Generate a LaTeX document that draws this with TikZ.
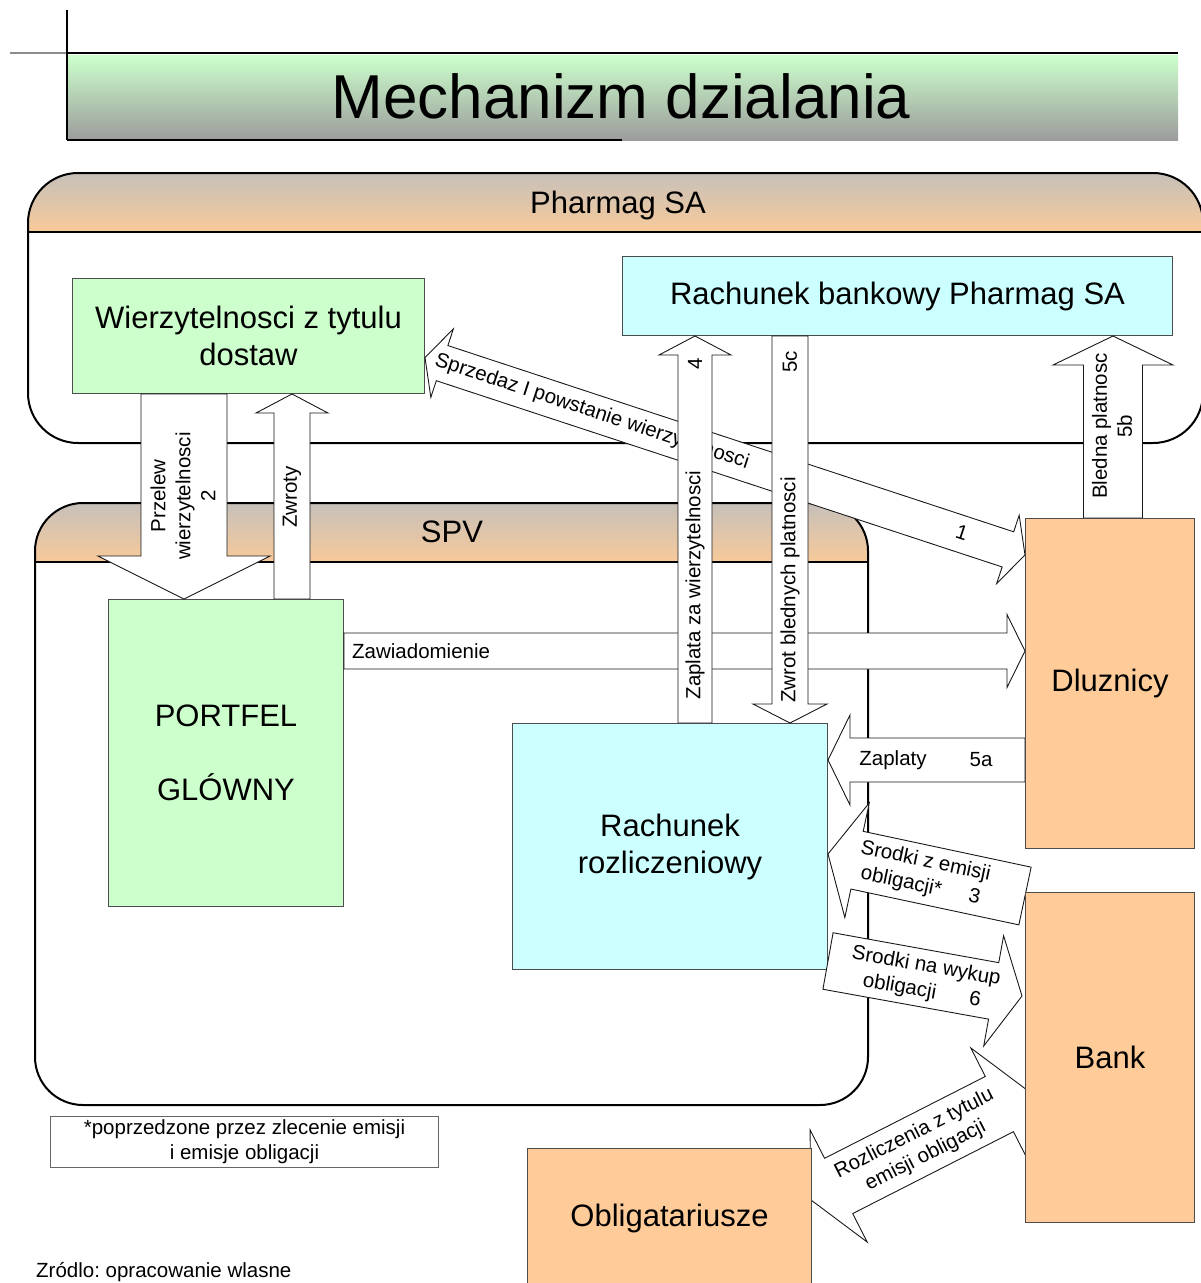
\documentclass[tikz,border=0pt]{standalone}
\usepackage{fontspec}
\setmainfont{Liberation Sans}
\usetikzlibrary{calc, positioning}
\frenchspacing

\definecolor{boxgreen}{RGB}{204,255,204}
\definecolor{boxcyan}{RGB}{204,255,255}
\definecolor{boxorange}{RGB}{255,204,153}
\definecolor{hdtop}{RGB}{198,192,186}
\definecolor{hdbot}{RGB}{248,202,154}
\definecolor{titletop}{RGB}{204,255,204}
\definecolor{titlebot}{RGB}{156,156,156}

\newcommand{\titlefont}{\fontsize{62}{70}\selectfont}
\newcommand{\boxfont}{\fontsize{31}{37}\selectfont}
\newcommand{\arrfont}{\fontsize{20.5}{25}\selectfont}

% tail, tip, shaft half width, head half width, head length
\newcommand{\blockarrow}[5]{%
  \coordinate (hb) at ($(#2)!#5!(#1)$);
  \draw[blk] ($(#1)!#3!90:(#2)$) -- ($(hb)!#3!-90:(#1)$) -- ($(hb)!#4!-90:(#1)$) -- (#2)
    -- ($(hb)!#4!90:(#1)$) -- ($(hb)!#3!90:(#1)$) -- ($(#1)!#3!-90:(#2)$) -- cycle;}
\newcommand{\dblockarrow}[5]{%
  \coordinate (ha) at ($(#1)!#5!(#2)$);
  \coordinate (hb) at ($(#2)!#5!(#1)$);
  \draw[blk] (#1) -- ($(ha)!#4!90:(#2)$) -- ($(ha)!#3!90:(#2)$) -- ($(hb)!#3!-90:(#1)$)
    -- ($(hb)!#4!-90:(#1)$) -- (#2) -- ($(hb)!#4!90:(#1)$) -- ($(hb)!#3!90:(#1)$)
    -- ($(ha)!#3!-90:(#2)$) -- ($(ha)!#4!-90:(#2)$) -- cycle;}

\tikzset{
  box/.style={draw=black!70, line width=1pt, inner sep=0pt, anchor=north west, align=center, font=\boxfont},
  greenbox/.style={box, fill=boxgreen},
  cyanbox/.style={box, fill=boxcyan},
  orangebox/.style={box, fill=boxorange},
  blk/.style={draw=black!90, fill=white, line width=0.9pt},
  lbl/.style={font=\arrfont, align=center, inner sep=0pt},
  contline/.style={draw, line width=2pt, rounded corners=#1}
}

\begin{document}
\begin{tikzpicture}[x=1pt, y=-1pt]
\useasboundingbox (0,0) rectangle (1201,1283);
\clip (0,0) rectangle (1201,1283);

% title bar
\shade[top color=titletop, bottom color=titlebot] (67,55) rectangle (1178,140);
\draw[black!45, line width=1.5pt] (10,53) -- (67,53);
\draw[line width=2.5pt] (67,53) -- (1178,53);
\draw[line width=2pt] (67,10) -- (67,140);
\draw[line width=2.5pt] (67,140) -- (622,140);
\node[font=\titlefont, anchor=base] (title) at (621,118) {Mechanizm dzialania};

% Pharmag SA
\fill[white, rounded corners=50pt] (28,173) rectangle (1203,443);
\begin{scope}
  \clip[rounded corners=50pt] (28,173) rectangle (1203,443);
  \shade[top color=hdtop, bottom color=hdbot] (28,173) rectangle (1203,232);
\end{scope}
\draw[line width=2pt] (28,232) -- (1203,232);
\path[contline=50pt] (28,173) rectangle (1203,443);
\node[font=\boxfont, anchor=base] (pharmag) at (618,213) {Pharmag SA};

\node[greenbox, minimum width=352pt, minimum height=115pt] (wierz) at (72,278) {Wierzytelnosci z tytulu\\dostaw};
\node[cyanbox, minimum width=550pt, minimum height=79pt] (rbank) at (622,256) {Rachunek bankowy Pharmag SA};

% SPV
\fill[white, rounded corners=48pt] (35,503) rectangle (868,1105);
\begin{scope}
  \clip[rounded corners=48pt] (35,503) rectangle (868,1105);
  \shade[top color=hdtop, bottom color=hdbot] (35,503) rectangle (868,562);
\end{scope}
\draw[line width=2pt] (35,562) -- (868,562);
\path[contline=48pt] (35,503) rectangle (868,1105);
\node[font=\boxfont, anchor=base] (spv) at (452,542) {SPV};

\node[greenbox, minimum width=235pt, minimum height=307pt] (portfel) at (108,599) {PORTFEL\\[37pt]GLÓWNY};
\node[cyanbox, minimum width=315pt, minimum height=246pt] (rozl) at (512,723) {Rachunek\\rozliczeniowy};

\coordinate (dlzNW) at (1025,518);
\coordinate (bankNW) at (1025,892);
\coordinate (oblNE) at (811,1148);

% 1: sprzedaz
\coordinate (sA) at ($(wierz.east)+(0,21.5)$);
\coordinate (sB) at ($(dlzNW)+(0,37)$);
\dblockarrow{sA}{sB}{18.5pt}{36pt}{18pt}
\node[lbl, rotate=-18.2] (tSprzedaz) at (592,412) {Sprzedaz I powstanie wierzytelnosci};
\node[lbl, rotate=-18.2] (tJeden) at (962,533) {1};

% zawiadomienie
\coordinate (zA) at ($(portfel.north east)+(0,52)$);
\coordinate (zB) at ($(dlzNW)+(0,133)$);
\blockarrow{zA}{zB}{18pt}{36.5pt}{18pt}
\node[lbl, anchor=west] (tZawiad) at (352,651) {Zawiadomienie};

% 4 and 5c
\coordinate (cA) at ($(rozl.north west)+(183,0)$);
\coordinate (cB) at ($(rbank.south west)+(73,0)$);
\blockarrow{cA}{cB}{17pt}{36pt}{19pt}
\node[lbl, rotate=90] (tZaplata) at (695,585) {Zaplata za wierzytelnosci};
\node[lbl, rotate=90] (tCztery) at (695,364) {4};

\coordinate (wA) at ($(rbank.south west)+(168,0)$);
\coordinate (wB) at ($(rozl.north west)+(278,0)$);
\blockarrow{wA}{wB}{18pt}{37pt}{19pt}
\node[lbl, rotate=90] (tZwrot) at (790,590) {Zwrot blednych platnosci};
\node[lbl, rotate=90] (tPiecC) at (790,362) {5c};

% 2 and zwroty
\coordinate (pA) at ($(wierz.south west)+(112,0)$);
\coordinate (pB) at ($(portfel.north west)+(76,0)$);
\blockarrow{pA}{pB}{43pt}{86pt}{43pt}
\node[lbl, rotate=90] (tPrzelew) at (183,496) {Przelew\\wierzytelnosci\\2};

\coordinate (rA) at ($(portfel.north west)+(184,0)$);
\coordinate (rB) at ($(wierz.south west)+(220,0)$);
\blockarrow{rA}{rB}{18pt}{36pt}{19pt}
\node[lbl, rotate=90] (tZwroty) at (292,497) {Zwroty};

% 5b
\coordinate (bA) at ($(dlzNW)+(88,0)$);
\coordinate (bB) at ($(rbank.south west)+(491,0)$);
\blockarrow{bA}{bB}{29.5pt}{60pt}{29pt}
\node[lbl, rotate=90] (tBledna) at (1112,426) {Bledna platnosc\\5b};

% 5a
\coordinate (aA) at ($(dlzNW)+(0,242)$);
\coordinate (aB) at ($(rozl.north east)+(0,37)$);
\blockarrow{aA}{aB}{22pt}{45pt}{22pt}
\node[lbl] (tZaplaty) at (893,760) {Zaplaty};
\node[lbl] (tPiecA) at (981,760) {5a};

% 3 and 6
\coordinate (eA) at ($(bankNW)+(0,4)$);
\coordinate (eB) at ($(rozl.north east)+(0,131)$);
\blockarrow{eA}{eB}{29.5pt}{58.6pt}{29.7pt}
\node[lbl, rotate=-12] (tSrodkiE) at (923,874) {Srodki z emisji\\obligacji*\hspace{28pt}3};

\coordinate (kA) at ($(rozl.north east)+(0,238)$);
\coordinate (kB) at ($(bankNW)+(-3,104)$);
\blockarrow{kA}{kB}{28.7pt}{56pt}{28.8pt}
\node[lbl, rotate=-10] (tSrodkiW) at (924,979) {Srodki na wykup\\obligacji\hspace{34pt}6};

% rozliczenia
\coordinate (oA) at ($(oblNE)+(0,52)$);
\coordinate (oB) at ($(bankNW)+(2,198)$);
\dblockarrow{oA}{oB}{31pt}{63pt}{31pt}
\node[lbl, rotate=27] (tRozlicz) at (920,1145) {Rozliczenia z tytulu\\emisji obligacji};

\node[orangebox, minimum width=169pt, minimum height=330pt] (dluz) at (dlzNW) {Dluznicy};
\node[orangebox, minimum width=169pt, minimum height=330pt] (bank) at (bankNW) {Bank};
\node[orangebox, minimum width=284pt, minimum height=140pt] (oblig) at (527,1148) {Obligatariusze};

\node[box, draw=black!60, font=\arrfont, minimum width=388pt, minimum height=51pt] (note) at (50,1116) {*poprzedzone przez zlecenie emisji\\i emisje obligacji};
\node[lbl, anchor=west] (zrodlo) at (36,1272) {Zródlo: opracowanie wlasne};
\end{tikzpicture}
\end{document}
